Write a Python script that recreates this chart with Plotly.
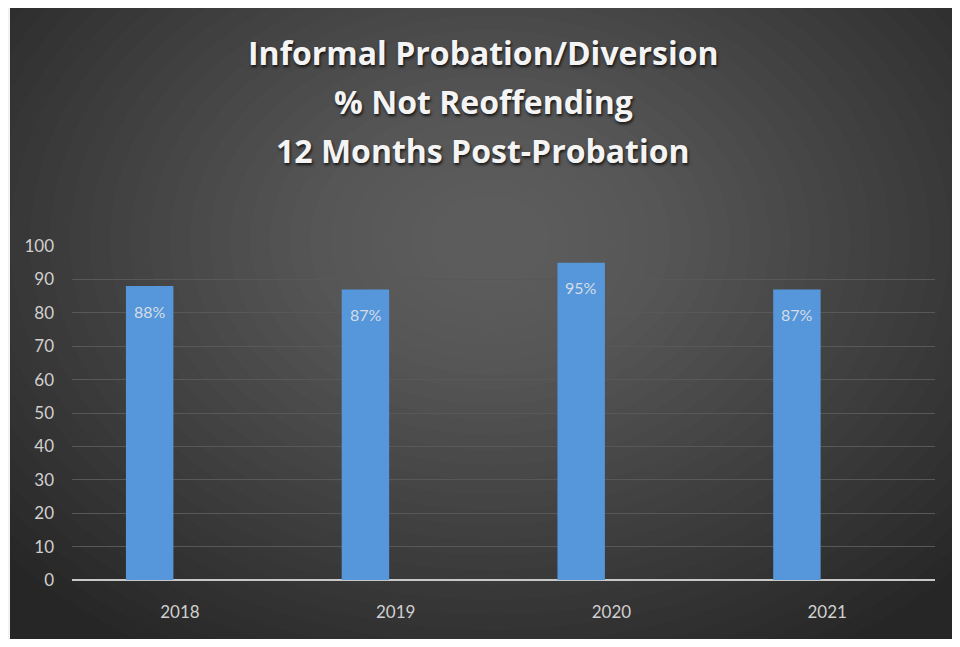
import plotly.graph_objects as go

years = ["2018", "2019", "2020", "2021"]
pct_not_reoffending = [88, 87, 95, 87]
bar_labels = ["88%", "87%", "95%", "87%"]
title_lines = ["Informal Probation/Diversion", "% Not Reoffending", "12 Months Post-Probation"]
y_ticks = [0, 10, 20, 30, 40, 50, 60, 70, 80, 90, 100]

# page body has an 8px margin; figure coords = screen coords - 8
OFF = 8
W, H = 944, 631
ML, MR, MT, MB = 64, 17, 238, 59
PW, PH = W - ML - MR, H - MT - MB

def px_x(sx):
    return (sx - OFF - ML) / PW

def px_y(sy):
    return 1 - (sy - OFF - MT) / PH

fig = go.Figure()
fig.add_trace(go.Bar(
    x=years, y=pct_not_reoffending,
    width=[0.22] * len(years), offset=[-0.25] * len(years),
    marker=dict(color="#5597da", line=dict(width=0)),
    hoverinfo="skip",
))

shapes = [
    dict(type="rect", xref="paper", yref="paper", layer="below",
         x0=px_x(10), x1=px_x(975), y0=px_y(660), y1=px_y(3),
         fillcolor="#262626", line=dict(width=0)),
]
# approximate radial light glow
cx, cy = 490, 240
n = 30
for i in range(n):
    rx = 640 - i * 20
    ry = 480 - i * 15
    shapes.append(dict(type="circle", xref="paper", yref="paper", layer="below",
                       x0=px_x(cx - rx), x1=px_x(cx + rx),
                       y0=px_y(cy + ry), y1=px_y(cy - ry),
                       fillcolor="rgba(255,255,255,0.0105)", line=dict(width=0)))

annotations = []
for i, t in enumerate(title_lines):
    sy = 52 + i * 49
    annotations.append(dict(text="<b>" + t + "</b>", xref="paper", yref="paper",
                            x=px_x(483), y=px_y(sy), xanchor="center", yanchor="middle",
                            showarrow=False,
                            font=dict(family="Open Sans", size=32, color="#f4f4f4",
                                      shadow="1px 2px 3px rgba(0,0,0,0.75)")))
for i, (v, lab) in enumerate(zip(pct_not_reoffending, bar_labels)):
    annotations.append(dict(text=lab, x=i, y=v, xref="x", yref="y",
                            xanchor="center", yanchor="middle", xshift=-30, yshift=-25,
                            showarrow=False,
                            font=dict(family="Lato", size=16, color="#d6dde6")))

fig.update_layout(
    width=W, height=H,
    margin=dict(l=ML, r=MR, t=MT, b=MB),
    paper_bgcolor="#f2f2f2",
    plot_bgcolor="rgba(0,0,0,0)",
    shapes=shapes,
    annotations=annotations,
    showlegend=False,
    xaxis=dict(type="category", categoryorder="array", categoryarray=years,
               range=[-0.5, len(years) - 0.5], autorange=False,
               showgrid=False, showline=False, zeroline=False, ticks="",
               tickfont=dict(family="Lato", size=17, color="#d0d0d0"),
               ticklabelstandoff=20),
    yaxis=dict(range=[0, 100], tickvals=y_ticks, showgrid=True, gridcolor="#585858",
               gridwidth=1, zeroline=True, zerolinecolor="#c8c8c8", zerolinewidth=2,
               showline=False, ticks="",
               tickfont=dict(family="Lato", size=17, color="#d0d0d0"),
               ticklabelstandoff=17),
)

fig.write_html("out.html")
